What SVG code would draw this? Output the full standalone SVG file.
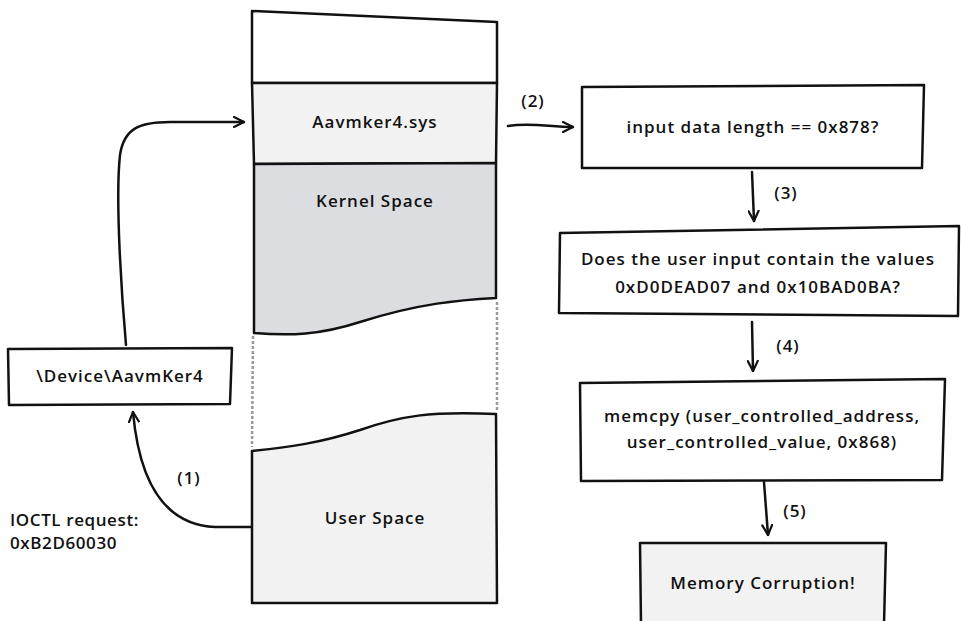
<svg xmlns="http://www.w3.org/2000/svg" width="961" height="621" viewBox="0 0 961 621">
<defs>
<style>
.box{stroke:#111;stroke-width:2.5;stroke-linejoin:round}
.t{font-family:"Open Sans","Liberation Sans",sans-serif;font-weight:600;font-size:17px;letter-spacing:1px;fill:#111;text-anchor:middle}
.tl{font-family:"Open Sans","Liberation Sans",sans-serif;font-weight:600;font-size:17px;letter-spacing:0.6px;fill:#111}
.c{fill:none;stroke:#111;stroke-width:2.5;stroke-linecap:round}
.dash{fill:none;stroke:#999;stroke-width:2.5;stroke-dasharray:3 2}
</style>
<marker id="ah" viewBox="0 0 12 12" refX="11" refY="6" markerWidth="12" markerHeight="12" markerUnits="userSpaceOnUse" orient="auto">
<path d="M1,1 L11,6 L1,11" fill="none" stroke="#111" stroke-width="2.2" stroke-linecap="round" stroke-linejoin="round"/>
</marker>
</defs>
<rect width="961" height="621" fill="#fff"/>

<g id="memory-top">
<polygon class="box" fill="#fff" points="252,11 497,22 497,83 252,83"/>
</g>
<g id="aavmker4-sys">
<polygon class="box" fill="#f2f2f2" points="252,83 497,83 496,163 254,164"/>
<text class="t" x="375" y="128">Aavmker4.sys</text>
</g>
<g id="kernel-space">
<path class="box" fill="#dcdde0" d="M254,164 L496,163 L496,298 C460,300 420,303 360,322 C320,335 290,336 254,333 Z"/>
<text class="t" x="375" y="207">Kernel Space</text>
</g>
<g id="gap">
<line class="dash" x1="253" y1="336" x2="252" y2="447"/>
<line class="dash" x1="497" y1="302" x2="497" y2="410"/>
</g>
<g id="user-space">
<path class="box" fill="#f2f2f2" d="M252,451 C290,447 320,443 360,430 C400,416 430,411 496,414 L497,603 L252,603 Z"/>
<text class="t" x="375" y="524">User Space</text>
</g>
<g id="device">
<polygon class="box" fill="#fff" points="8,349 232,348 230,404 9,405"/>
<text class="t" x="120" y="382">\Device\AavmKer4</text>
</g>
<g id="box-length">
<polygon class="box" fill="#fff" points="582,87 924,85 922,168 582,168"/>
<text class="t" x="753" y="133">input data length == 0x878?</text>
</g>
<g id="box-values">
<polygon class="box" fill="#fff" points="560,233 959,226 958,316 559,313"/>
<text class="t" x="758" y="265">Does the user input contain the values</text>
<text class="t" x="758" y="293">0xD0DEAD07 and 0x10BAD0BA?</text>
</g>
<g id="box-memcpy">
<polygon class="box" fill="#fff" points="580,383 945,379 942,480 581,481"/>
<text class="t" x="762" y="422">memcpy (user_controlled_address,</text>
<text class="t" x="762" y="448">user_controlled_value, 0x868)</text>
</g>
<g id="box-corruption">
<polygon class="box" fill="#f2f2f2" points="640,543 886,543 884,625 641,625"/>
<text class="t" x="763" y="589">Memory Corruption!</text>
</g>

<g id="connectors">
<path class="c" marker-end="url(#ah)" d="M126,345 C122,300 115,200 120,155 C124,128 140,122 170,122 L244,122"/>
<path class="c" marker-end="url(#ah)" d="M251,527 L215,527 C170,525 140,490 133,412"/>
<path class="c" marker-end="url(#ah)" d="M508,126 C530,122 550,127 573,127"/>
<path class="c" marker-end="url(#ah)" d="M752,172 L754,221"/>
<path class="c" marker-end="url(#ah)" d="M752,322 L753,371"/>
<path class="c" marker-end="url(#ah)" d="M764,482 L768,535"/>
</g>
<g id="labels">
<text class="t" x="189" y="484">(1)</text>
<text class="t" x="533" y="107">(2)</text>
<text class="t" x="786" y="199">(3)</text>
<text class="t" x="788" y="352">(4)</text>
<text class="t" x="795" y="517">(5)</text>
<text class="tl" x="10" y="526">IOCTL request:</text>
<text class="tl" x="10" y="549">0xB2D60030</text>
</g>
</svg>
